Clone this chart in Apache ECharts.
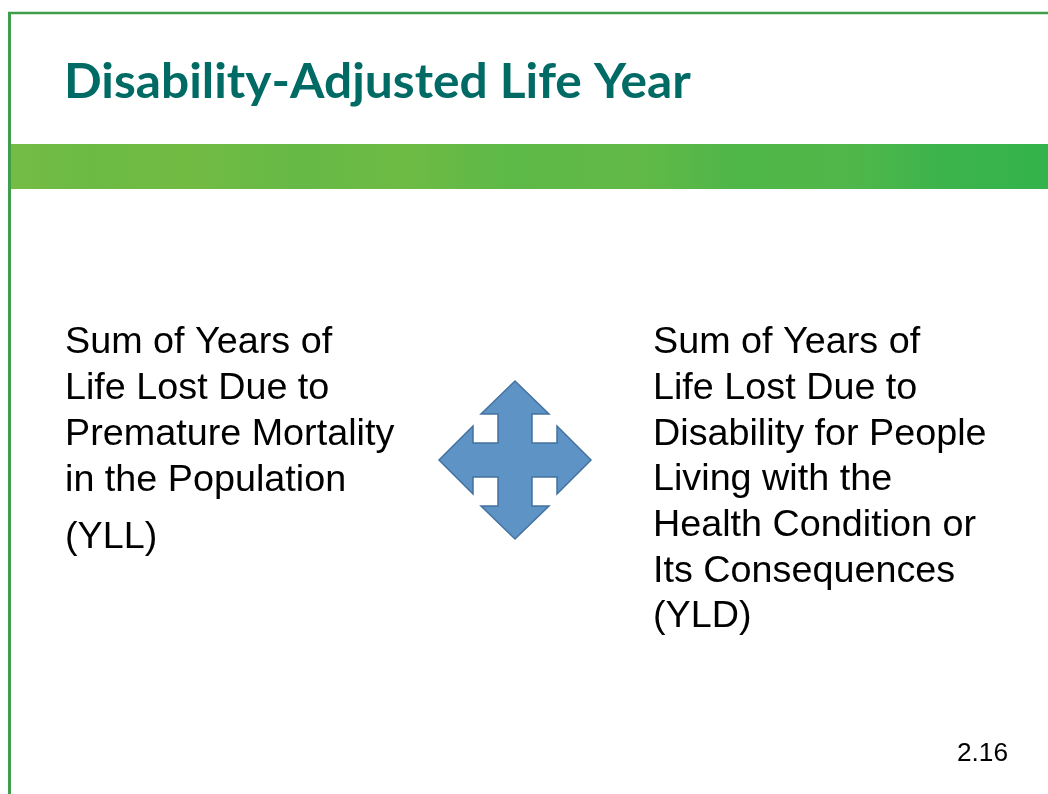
<!DOCTYPE html>
<html>
<head>
<meta charset="utf-8">
<script src="https://cdn.jsdelivr.net/npm/echarts@6/dist/echarts.min.js"></script>
<style>
  html, body { margin: 0; padding: 0; background: #fff; }
  #main { width: 1048px; height: 794px; }
</style>
</head>
<body>
<div id="main"></div>
<script>
// slide content
var titleText = "Disability-Adjusted Life Year";
var leftLines = ["Sum of Years of", "Life Lost Due to", "Premature Mortality", "in the Population"];
var leftTag = "(YLL)";
var rightLines = ["Sum of Years of", "Life Lost Due to", "Disability for People", "Living with the",
  "Health Condition or", "Its Consequences", "(YLD)"];
var slideNumber = "2.16";

var chart = echarts.init(document.getElementById("main"));

var bodyFont = "Liberation Sans, Arial, sans-serif";
var stretch = 1.02;

function textLines(lines, x, y0, pitch) {
  return lines.map(function (t, i) {
    return {
      type: "text",
      x: x,
      y: y0 + i * pitch,
      scaleX: stretch,
      style: {
        text: t,
        fill: "#000",
        font: "37px " + bodyFont,
        verticalAlign: "middle"
      }
    };
  });
}

// four-way arrow around a centre point
function crossArrow(cx, cy, tipX, baseX, tipY, baseY, head, stem) {
  var pts = [
    [0, -tipY], [head, -baseY], [stem, -baseY], [stem, -stem],
    [baseX, -stem], [baseX, -head], [tipX, 0], [baseX, head], [baseX, stem],
    [stem, stem], [stem, baseY], [head, baseY], [0, tipY], [-head, baseY],
    [-stem, baseY], [-stem, stem], [-baseX, stem], [-baseX, head], [-tipX, 0],
    [-baseX, -head], [-baseX, -stem], [-stem, -stem], [-stem, -baseY], [-head, -baseY]
  ];
  return pts.map(function (p) { return [cx + p[0], cy + p[1]]; });
}

var elements = [
  // green band
  {
    type: "rect",
    shape: { x: 10, y: 144, width: 1038, height: 45 },
    style: {
      fill: new echarts.graphic.LinearGradient(0, 0, 1, 0, [
        { offset: 0, color: "#74bc45" },
        { offset: 0.08, color: "#6cba44" },
        { offset: 0.17, color: "#72bb43" },
        { offset: 0.28, color: "#66b946" },
        { offset: 0.38, color: "#6ebb44" },
        { offset: 0.48, color: "#5db947" },
        { offset: 0.6, color: "#62b947" },
        { offset: 0.7, color: "#4fb648" },
        { offset: 0.8, color: "#52b74a" },
        { offset: 0.9, color: "#3cb44b" },
        { offset: 1, color: "#33b34b" }
      ])
    }
  },
  // frame lines
  {
    type: "line",
    shape: { x1: 8, y1: 13, x2: 1048, y2: 13 },
    style: { stroke: "#3f9e4a", lineWidth: 2.5 }
  },
  {
    type: "line",
    shape: { x1: 9.5, y1: 12, x2: 9.5, y2: 794 },
    style: { stroke: "#3f9e4a", lineWidth: 3 }
  },
  // title
  {
    type: "text",
    x: 64,
    y: 83,
    scaleX: 1.035,
    style: {
      text: titleText,
      fill: "#006a65",
      font: "bold 48px Lato, sans-serif",
      verticalAlign: "middle"
    }
  },
  // arrow
  {
    type: "polygon",
    shape: { points: crossArrow(515, 460, 76, 42, 79, 46, 34, 17) },
    style: { fill: "#5e93c6", stroke: "#44729f", lineWidth: 1.5 }
  },
  // slide number
  {
    type: "text",
    x: 1008,
    y: 754,
    scaleX: 1.05,
    style: {
      text: slideNumber,
      fill: "#000",
      font: "25px " + bodyFont,
      align: "right",
      verticalAlign: "middle"
    }
  }
];

elements = elements
  .concat(textLines(leftLines, 65, 343, 46))
  .concat(textLines([leftTag], 65, 538, 46))
  .concat(textLines(rightLines, 653, 343, 45.7));

chart.setOption({
  backgroundColor: "#fff",
  graphic: { elements: elements }
});
</script>
</body>
</html>
